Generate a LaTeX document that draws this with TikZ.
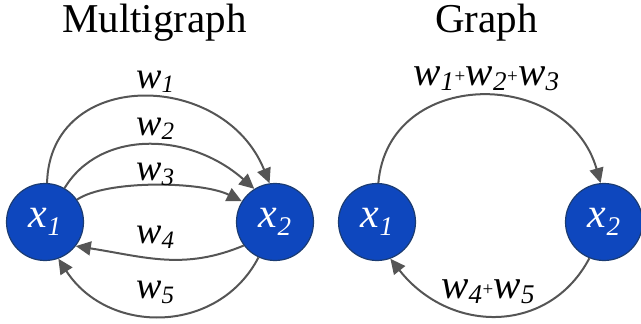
\documentclass[tikz,border=0pt]{standalone}
\usepackage{fontspec}
\setmainfont{Liberation Serif}
\newfontfamily\tms{Liberation Serif}
\usetikzlibrary{arrows.meta}
\definecolor{nodeblue}{RGB}{14,71,190}
\definecolor{nodeline}{RGB}{27,60,115}
\definecolor{edgegray}{RGB}{85,85,85}
\newcommand\wlft[1]{\textit{w}\raisebox{-5pt}{\fontsize{25}{25}\selectfont\textit{#1}}}
\newcommand\wrgt[1]{\textit{w}\raisebox{-5pt}{\fontsize{27}{27}\selectfont\textit{#1}}}
\newcommand\pls{\hspace{0.5pt}\raisebox{3pt}{\fontsize{19}{19}\selectfont +}\hspace{0.5pt}}
\newcommand\xlab[1]{\textit{x}\raisebox{-8pt}{\fontsize{27}{27}\selectfont\textit{#1}}}
\tikzset{
  vert/.style={circle, minimum size=77pt, inner sep=0pt, fill=nodeblue, draw=nodeline,
    line width=1.2pt, text=white, font=\tms\fontsize{42}{42}\selectfont},
  edge/.style={draw=edgegray, line width=2pt, -{Triangle[length=15pt,width=14pt]}, edgegray},
  wlab/.style={anchor=base west, inner sep=0pt, font=\tms\fontsize{38}{38}\selectfont},
  wlabr/.style={anchor=base west, inner sep=0pt, font=\tms\fontsize{41}{41}\selectfont},
  title/.style={anchor=base west, inner sep=0pt, font=\tms\fontsize{41}{41}\selectfont}
}
\begin{document}
\begin{tikzpicture}[x=1pt,y=-1pt]
\useasboundingbox (0,0) rectangle (641,324);
% titles
\node[title] (t1) at (62,32) {Multigraph};
\node[title] (t2) at (435,32) {Graph};
% multigraph nodes
\node[vert] (a1) at (45,222) {\xlab{1}};
\node[vert] (a2) at (275,222) {\xlab{2}};
% graph nodes
\node[vert] (b1) at (377,222) {\xlab{1}};
\node[vert] (b2) at (604,222) {\xlab{2}};
% multigraph edges
\draw[edge] (a1.87) .. controls +(3,-115) and +(-46,-114) .. (a2.98);
\draw[edge] (a1.60) .. controls +(35,-58) and +(-66,-58) .. (a2.122);
\draw[edge] (a1.35) .. controls +(30,-20) and +(-40,-20) .. (a2.148);
\draw[edge] (a2.217) .. controls +(-60,25) and +(70,11) .. (a1.322);
\draw[edge] (a2.245) .. controls +(-40,77) and +(50,77) .. (a1.290);
% graph edges
\draw[edge] (b1.88) .. controls +(10,-116) and +(-33,-116) .. (b2.95);
\draw[edge] (b2.248) .. controls +(-40,76) and +(60,76) .. (b1.290);
% labels
\node[wlab] (l1) at (136,88) {\wlft{1}};
\node[wlab] (l2) at (136,135) {\wlft{2}};
\node[wlab] (l3) at (136,180) {\wlft{3}};
\node[wlab] (l4) at (136,243) {\wlft{4}};
\node[wlab] (l5) at (136,298) {\wlft{5}};
\node[wlabr] (r1) at (413,85) {\wrgt{1}\pls\wrgt{2}\pls\wrgt{3}};
\node[wlabr] (r2) at (441,298) {\wrgt{4}\pls\wrgt{5}};
\end{tikzpicture}
\end{document}
